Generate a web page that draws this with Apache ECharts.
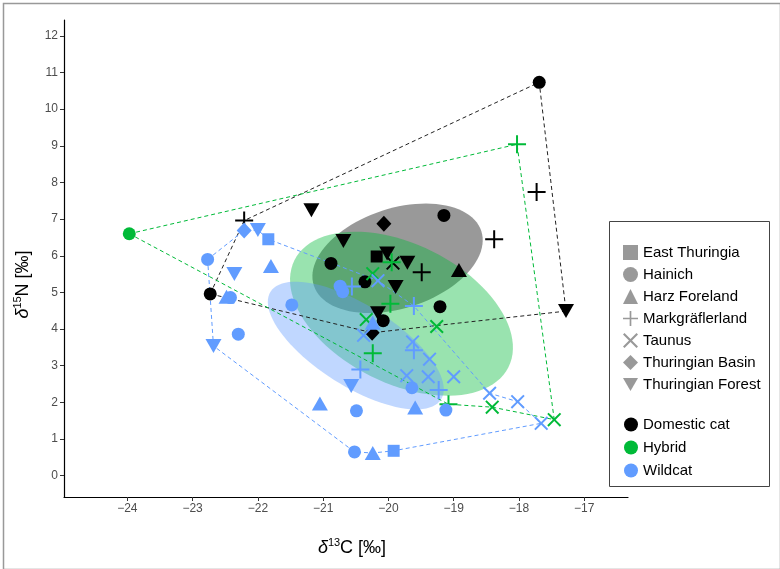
<!DOCTYPE html>
<html>
<head>
<meta charset="utf-8">
<script src="https://cdn.jsdelivr.net/npm/echarts@6/dist/echarts.min.js"></script>
<style>
html, body { margin: 0; padding: 0; background: #fff; }
#chart { width: 780px; height: 569px; }
</style>
</head>
<body>
<div id="chart"></div>
<script>
var regions = ['East Thuringia', 'Hainich', 'Harz Foreland', 'Markgräflerland', 'Taunus', 'Thuringian Basin', 'Thuringian Forest'];
var groups = ['Domestic cat', 'Hybrid', 'Wildcat'];
var groupColors = ['#000000', '#00BA38', '#619CFF'];
var xTicks = [-24, -23, -22, -21, -20, -19, -18, -17];
var yTicks = [0, 1, 2, 3, 4, 5, 6, 7, 8, 9, 10, 11, 12];

// [d13C, d15N, region index]
var domesticCat = [
    [-17.69, 10.73, 1], [-17.73, 7.74, 3], [-18.38, 6.45, 3], [-17.28, 4.49, 6],
    [-19.15, 7.10, 1], [-21.18, 7.24, 6], [-22.21, 6.96, 3], [-20.07, 6.87, 5],
    [-20.69, 6.40, 6], [-20.88, 5.79, 1], [-20.18, 5.98, 0], [-20.02, 6.06, 6],
    [-19.71, 5.81, 6], [-19.93, 5.80, 4], [-19.49, 5.55, 3], [-18.92, 5.61, 2],
    [-20.36, 5.29, 1], [-19.89, 5.15, 6], [-19.21, 4.61, 1], [-20.16, 4.43, 6],
    [-20.08, 4.23, 1], [-20.25, 3.90, 5], [-22.73, 4.96, 1]
];
var hybrid = [
    [-23.97, 6.60, 1], [-18.03, 9.04, 3], [-17.46, 1.53, 4], [-18.41, 1.87, 4],
    [-19.08, 1.95, 3], [-19.26, 4.07, 4], [-19.97, 4.69, 3], [-20.34, 4.26, 4],
    [-20.24, 3.34, 3], [-20.24, 5.51, 4], [-19.95, 5.82, 3]
];
var wildcat = [
    [-22.77, 5.90, 1], [-22.21, 6.69, 5], [-22.00, 6.70, 6], [-21.84, 6.45, 0],
    [-22.36, 5.50, 6], [-21.80, 5.72, 2], [-22.42, 4.86, 1], [-22.48, 4.88, 2],
    [-21.48, 4.66, 1], [-22.30, 3.86, 1], [-22.68, 3.54, 6], [-21.05, 1.97, 2],
    [-20.49, 1.77, 1], [-20.52, 0.65, 1], [-20.24, 0.62, 2], [-19.92, 0.68, 0],
    [-20.57, 2.45, 6], [-19.64, 2.40, 1], [-19.59, 1.86, 2], [-19.12, 1.79, 1],
    [-20.43, 2.90, 3], [-19.23, 2.34, 3], [-19.72, 2.73, 4], [-19.39, 2.70, 4],
    [-19.00, 2.70, 4], [-19.37, 3.18, 4], [-19.61, 3.42, 3], [-19.63, 3.65, 4],
    [-20.38, 3.83, 4], [-20.24, 4.17, 2], [-19.61, 4.63, 3], [-20.16, 5.32, 4],
    [-20.74, 5.17, 1], [-20.70, 5.02, 1], [-20.56, 5.16, 3], [-18.45, 2.25, 4],
    [-18.02, 2.02, 4], [-17.66, 1.43, 4]
];

// hull vertices, as indices into the group arrays
var domesticHull = [22, 6, 0, 3, 21];
var hybridHull = [0, 1, 2, 3, 4];
var wildcatHull = [0, 1, 2, 3, 31, 30, 35, 36, 37, 15, 14, 13, 10];

// ellipse: [centre x, centre y, axis 1 dx, axis 1 dy, axis 2 dx, axis 2 dy]
var domesticEllipse = [-19.86, 5.93, 1.283, 0.742, -0.237, 1.297];
var hybridEllipse = [-19.80, 4.42, 1.640, -1.456, 0.475, 1.699];
var wildcatEllipse = [-20.50, 3.55, 1.306, -1.469, 0.333, 0.936];

var symbols = [
    'rect',
    'circle',
    'triangle',
    'path://M8,0h2v8h8v2h-8v8h-2v-8h-8v-2h8z',
    'path://M1.4,0L7,5.6L12.6,0L14,1.4L8.4,7L14,12.6L12.6,14L7,8.4L1.4,14L0,12.6L5.6,7L0,1.4Z',
    'diamond',
    'path://M0,0L16,0L8,14Z'
];
var symbolSizes = [[12, 12], 13, [16, 14], [18, 18], [14, 14], [15, 16], [16, 14]];

var groupData = [domesticCat, hybrid, wildcat];
var hulls = [domesticHull, hybridHull, wildcatHull];
var ellipses = [domesticEllipse, hybridEllipse, wildcatEllipse];
var font = 'Liberation Sans, Arial, Helvetica, sans-serif';

function minus(v) { return String(v).replace('-', '\u2212'); }

function render_ellipse(params, api) {
    var cx = api.value(0), cy = api.value(1);
    var ux = api.value(2), uy = api.value(3), vx = api.value(4), vy = api.value(5);
    var pts = [];
    for (var k = 0; k < 96; k++) {
        var t = k / 96 * Math.PI * 2;
        pts.push(api.coord([cx + ux * Math.cos(t) + vx * Math.sin(t),
                            cy + uy * Math.cos(t) + vy * Math.sin(t)]));
    }
    return { type: 'polygon', shape: { points: pts }, style: { fill: api.visual('color'), opacity: 0.4 } };
}

var series = [];
// ellipses first, then hulls, then points
ellipses.forEach(function (e, i) {
    series.push({
        type: 'custom', renderItem: render_ellipse, z: 1, silent: true,
        itemStyle: { color: groupColors[i] },
        data: [e]
    });
});
hulls.forEach(function (h, i) {
    var pts = h.map(function (k) { return [groupData[i][k][0], groupData[i][k][1]]; });
    pts.push(pts[0]);
    series.push({
        type: 'line', z: 2, silent: true, symbol: 'none',
        lineStyle: { color: i === 0 ? '#222' : groupColors[i], width: 1, type: [4, 3] },
        data: pts
    });
});
groupData.forEach(function (g, i) {
    series.push({
        name: groups[i],
        type: 'scatter', z: 3,
        itemStyle: { color: groupColors[i], opacity: 1 },
        data: g.map(function (p) {
            return { value: [p[0], p[1]], symbol: symbols[p[2]], symbolSize: symbolSizes[p[2]] };
        })
    });
});
// empty series so the region legend can show grey shapes
regions.forEach(function (r, i) {
    series.push({ name: r, type: 'scatter', symbol: symbols[i], itemStyle: { color: '#808080' }, data: [] });
});

var axisName = function () {
    return {
        fontFamily: font, fontSize: 18, color: '#000',
        rich: {
            i: { fontSize: 18, fontStyle: 'italic', fontFamily: font, color: '#000', lineHeight: 20, verticalAlign: 'bottom' },
            t: { fontSize: 18, fontFamily: font, color: '#000', lineHeight: 20, verticalAlign: 'bottom' },
            sup: { fontSize: 11, fontFamily: font, color: '#000', lineHeight: 12, verticalAlign: 'top' }
        }
    };
};

var chart = echarts.init(document.getElementById('chart'));
chart.setOption({
    animation: false,
    backgroundColor: '#fff',
    grid: { left: 64, right: 152, top: 20, bottom: 72 },
    xAxis: {
        type: 'value', min: -24.97, max: -16.33,
        name: '{i|δ}{sup|13}{t|C [‰]}', nameLocation: 'middle', nameGap: 40,
        nameTextStyle: Object.assign(axisName(), { padding: [0, 0, 0, 12] }),
        axisLine: { onZero: false, lineStyle: { color: '#000', width: 1.2 } },
        axisTick: { customValues: xTicks, length: 4, lineStyle: { color: '#333' } },
        axisLabel: { customValues: xTicks, formatter: minus, color: '#4d4d4d', fontSize: 12, margin: 6, fontFamily: font },
        splitLine: { show: false }
    },
    yAxis: {
        type: 'value', min: -0.58, max: 12.43,
        name: '{i|δ}{sup|15}{t|N [‰]}', nameLocation: 'middle', nameGap: 32,
        nameTextStyle: Object.assign(axisName(), { padding: [0, 52, 0, 0] }),
        axisLine: { show: true, onZero: false, lineStyle: { color: '#000', width: 1.2 } },
        axisTick: { show: true, customValues: yTicks, length: 4, lineStyle: { color: '#333' } },
        axisLabel: { customValues: yTicks, color: '#4d4d4d', fontSize: 12, margin: 6, fontFamily: font },
        splitLine: { show: false }
    },
    legend: [
        {
            orient: 'vertical', left: 618, top: 240, itemGap: 7, itemWidth: 15, itemHeight: 15,
            textStyle: { fontFamily: font, fontSize: 15, color: '#000' },
            selectedMode: false,
            data: regions.map(function (r, i) { return { name: r, icon: symbols[i] }; })
        },
        {
            orient: 'vertical', left: 619, top: 412, itemGap: 8, itemWidth: 14, itemHeight: 14,
            textStyle: { fontFamily: font, fontSize: 15, color: '#000' },
            selectedMode: false,
            data: groups.map(function (g) { return { name: g, icon: 'circle' }; })
        }
    ],
    graphic: [
        { type: 'rect', left: 1, top: 1, shape: { width: 777, height: 566 }, style: { fill: 'none', stroke: '#999', lineWidth: 1.5 }, z: -1 },
        { type: 'rect', left: 607, top: 219, shape: { width: 160, height: 265 }, style: { fill: 'none', stroke: '#444', lineWidth: 1 }, z: -1 }
    ],
    series: series
});
</script>
</body>
</html>
